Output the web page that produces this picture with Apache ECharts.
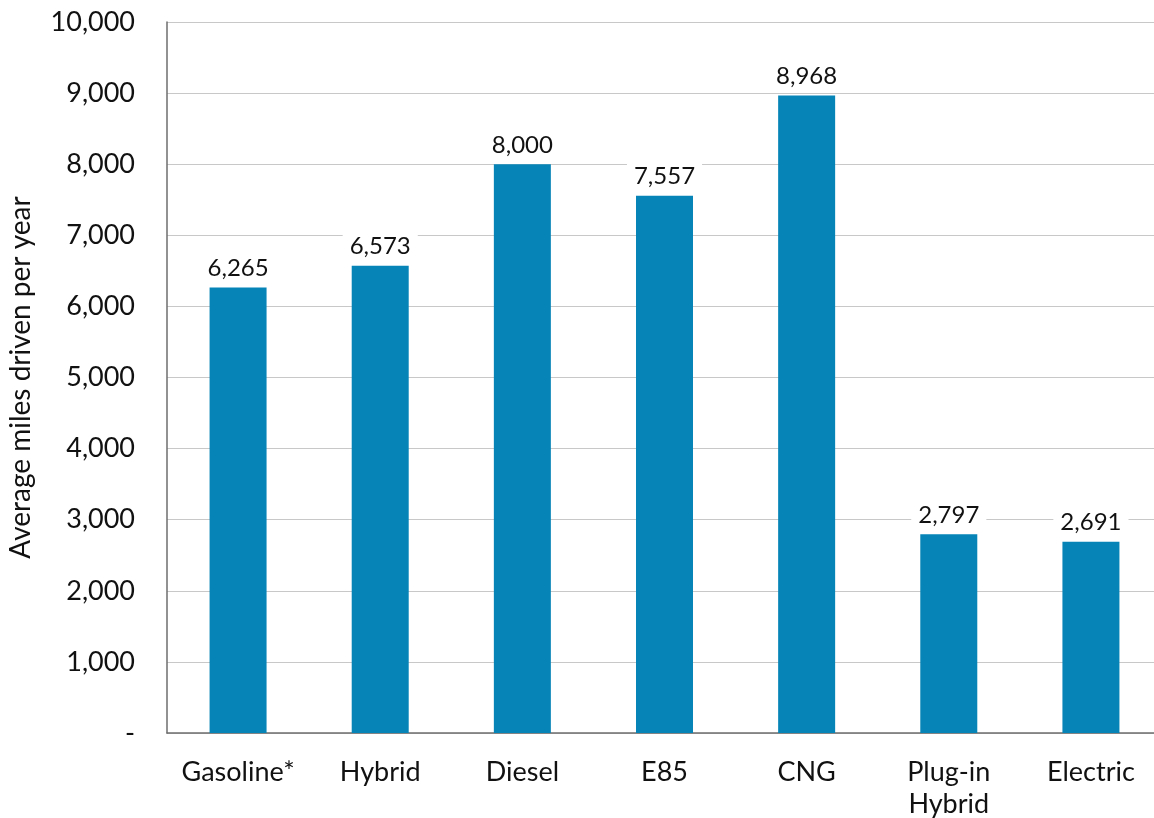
<!DOCTYPE html>
<html>
<head>
<meta charset="utf-8">
<script src="https://cdn.jsdelivr.net/npm/echarts@6/dist/echarts.min.js"></script>
<style>
  html, body { margin: 0; padding: 0; background: #fff; }
  #chart { width: 1154px; height: 818px; }
</style>
</head>
<body>
<div id="chart"></div>
<script>
// Fuel types and average annual miles driven
const categories = ['Gasoline*', 'Hybrid', 'Diesel', 'E85', 'CNG', 'Plug-in\nHybrid', 'Electric'];
const milesPerYear = [6265, 6573, 8000, 7557, 8968, 2797, 2691];
const axisTitle = 'Average miles driven per year';

const fmt = v => v === 0 ? '-' : v.toLocaleString('en-US');

const chart = echarts.init(document.getElementById('chart'));
chart.setOption({
  animation: false,
  textStyle: { fontFamily: 'Lato' },
  grid: { left: 167, right: -8, top: 22, bottom: 85, outerBoundsMode: 'none', containLabel: false },
  xAxis: {
    type: 'category',
    data: categories,
    axisLine: { show: true, lineStyle: { color: '#6e6e6e', width: 1.5 } },
    axisTick: { show: false },
    axisLabel: { color: '#111', fontSize: 27, fontFamily: 'Lato', margin: 23, lineHeight: 32, interval: 0 }
  },
  yAxis: {
    type: 'value',
    min: 0,
    max: 10000,
    interval: 1000,
    name: axisTitle,
    nameLocation: 'middle',
    nameGap: 132,
    nameTextStyle: { color: '#111', fontSize: 28, fontFamily: 'Lato' },
    axisLine: { show: true, lineStyle: { color: '#6e6e6e', width: 1.5 } },
    axisTick: { show: false },
    splitLine: { lineStyle: { color: '#c8c8c8', width: 1.2 } },
    axisLabel: { color: '#111', fontSize: 27, fontFamily: 'Lato', margin: 32, formatter: fmt }
  },
  series: [{
    type: 'bar',
    data: milesPerYear,
    barWidth: 57,
    itemStyle: { color: '#0684b7' },
    label: {
      show: true,
      position: 'top',
      distance: 5,
      color: '#111',
      fontSize: 24,
      fontFamily: 'Lato',
      backgroundColor: '#fff',
      padding: [2, 7],
      formatter: p => fmt(p.value)
    }
  }]
});
</script>
</body>
</html>
